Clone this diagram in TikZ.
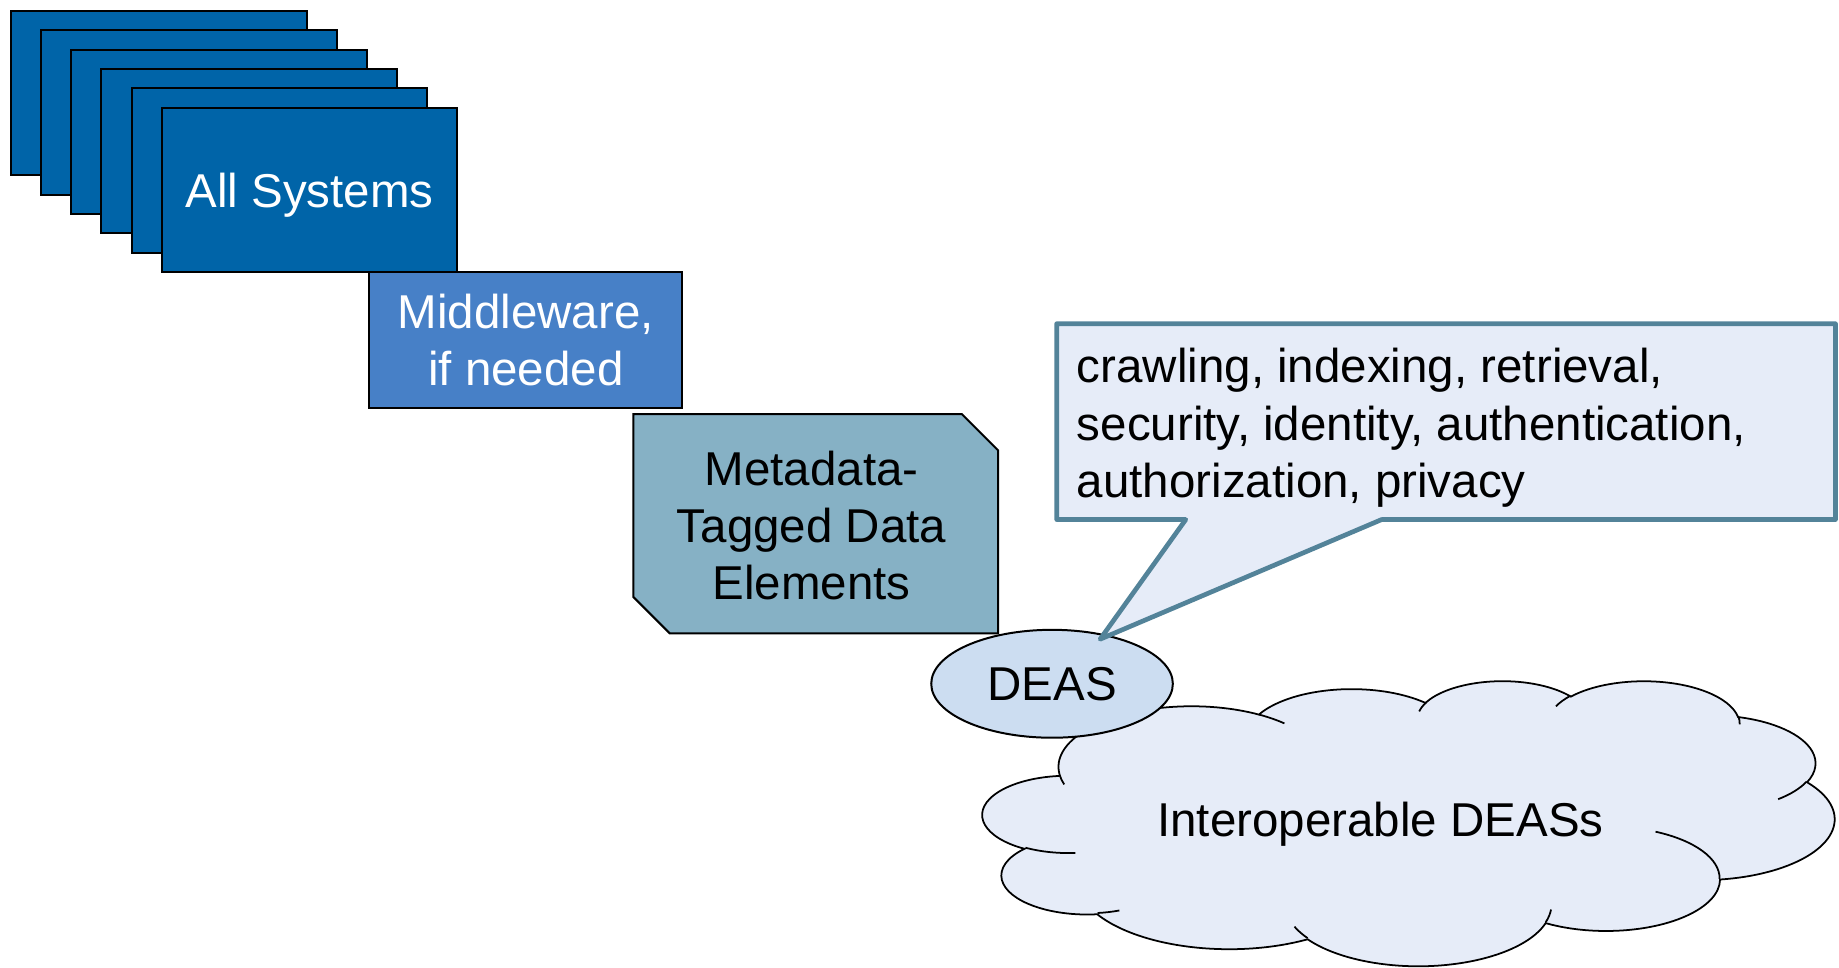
\documentclass[tikz,border=0pt]{standalone}
\usepackage{fontspec}
\setmainfont{Liberation Sans}
\usetikzlibrary{shapes.geometric}
\definecolor{sysblue}{RGB}{0,100,168}
\definecolor{midblue}{RGB}{71,128,199}
\definecolor{metateal}{RGB}{134,177,197}
\definecolor{deasfill}{RGB}{204,221,241}
\definecolor{pale}{RGB}{230,236,248}
\definecolor{calloutline}{RGB}{83,131,153}
% arc given DrawingML-style: wR, hR, visual start angle, sweep
\newcommand\carc[4]{arc[x radius=#1, y radius=#2, start angle={atan2(#1*sin(#3),#2*cos(#3))}, delta angle={Mod(atan2(#1*sin(#3+#4),#2*cos(#3+#4))-atan2(#1*sin(#3),#2*cos(#3)),360)}]}
\begin{document}
\begin{tikzpicture}[x=1pt,y=-1pt,
  bigtext/.style={font=\fontsize{40.5}{48.6}\selectfont},
  sysbox/.style={draw=black, line width=1.7pt, fill=sysblue, minimum width=252pt, minimum height=140pt, inner sep=0pt, anchor=north west},
  linebox/.style={draw=black, line width=1.7pt},
  calltext/.style={bigtext, anchor=base west, inner sep=0pt}]
\useasboundingbox (0,0) rectangle (1568,825);

% stacked system boxes
\foreach \k in {0,...,4}
  \node[sysbox] (sys\k) at ({8.5+25.7*\k},{8.5+16.5*\k}) {};
\node[sysbox, text=white, bigtext, text depth=0pt] (sys5) at (137,91) {All Systems};

% middleware
\node[linebox, fill=midblue, minimum width=267pt, minimum height=116pt, inner sep=0pt, anchor=north west, text=white, bigtext, align=center] (mid) at (314,231) {Middleware,\\if needed};

% cloud (PowerPoint-like cloud geometry)
\begin{scope}[shift={(838,580)}, x=1.68056pt, y=-0.5625pt]
\draw[line width=1.5pt, fill=pale] (39.00,143.70)
  \carc{67.53}{91.90}{-190.4875}{123.7805}
  \carc{53.33}{72.67}{-144.1024}{89.9452}
  \carc{43.65}{59.45}{-145.8079}{99.7230}
  \carc{48.57}{65.95}{-130.9861}{117.2417}
  \carc{53.33}{72.73}{-78.7089}{109.0269}
  \carc{67.75}{92.20}{-46.2673}{130.2690}
  \carc{57.85}{78.67}{0.6250}{114.0333}
  \carc{67.52}{92.15}{22.4516}{115.1726}
  \carc{77.20}{105.43}{66.2426}{75.7110}
  \carc{43.60}{59.18}{-274.9421}{146.7356}
  \carc{43.45}{59.45}{-246.8285}{152.5189} -- cycle;
\draw[line width=1.5pt]
  (46.93,261.77) \carc{43.45}{59.45}{86.7420}{26.4295}
  (69.28,348.99) \carc{43.60}{59.18}{73.6105}{11.4475}
  (164.78,390.90) \carc{67.52}{92.15}{137.6242}{14.0811}
  (288.27,347.51) \carc{67.52}{92.15}{6.4533}{15.9984}
  (341.29,229.54) \carc{57.85}{78.67}{-70.2924}{70.9174}
  (417.98,153.54) \carc{53.33}{72.73}{30.3180}{27.7515}
  (383.24,54.26) \carc{48.57}{65.95}{-13.7443}{14.8622}
  (290.78,39.52) \carc{48.57}{65.95}{-149.1815}{18.1954}
  (221.41,47.20) \carc{43.65}{59.45}{-163.4943}{17.6864}
  (140.00,51.92) \carc{67.53}{91.90}{-66.7070}{12.3194}
  (41.27,157.89) \carc{67.53}{91.90}{157.6544}{11.8582};
\end{scope}
\node[bigtext, anchor=base, inner sep=0pt] (cloudtext) at (1177,713.5) {Interoperable DEASs};

% metadata tagged data elements
\draw[linebox, fill=metateal] (540,353) -- (820,353) -- (851,384) -- (851,540) -- (571,540) -- (540,509) -- cycle;
\node[bigtext, align=center] (meta) at (692,448) {Metadata-\\Tagged Data\\Elements};

% DEAS
\node[ellipse, linebox, fill=deasfill, minimum width=206pt, minimum height=92pt, inner sep=0pt, bigtext, text depth=0pt] (deas) at (897,583) {DEAS};

% callout
\coordinate (tip) at (938,545);
\draw[calloutline, line width=4pt, fill=pale, line join=round]
  (901,276) -- (1565,276) -- (1565,443) -- (1178,443) -- (tip) -- (1011,443) -- (901,443) -- cycle;
\node[calltext] (c1) at (918,326.3) {crawling, indexing, retrieval,};
\node[calltext] (c2) at (918,375.2) {security, identity, authentication,};
\node[calltext] (c3) at (918,423.8) {authorization, privacy};
\end{tikzpicture}
\end{document}
